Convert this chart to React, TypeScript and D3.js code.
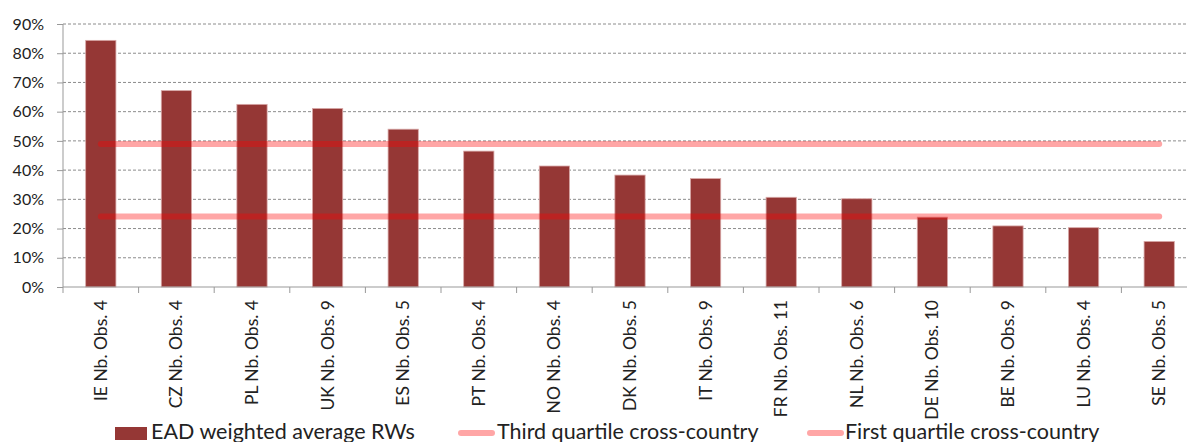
import { FC, useEffect, useRef } from 'react';
import * as d3 from 'd3';

const categories = [
  'IE Nb. Obs. 4', 'CZ Nb. Obs. 4', 'PL Nb. Obs. 4', 'UK Nb. Obs. 9', 'ES Nb. Obs. 5',
  'PT Nb. Obs. 4', 'NO Nb. Obs. 4', 'DK Nb. Obs. 5', 'IT Nb. Obs. 9', 'FR Nb. Obs. 11',
  'NL Nb. Obs. 6', 'DE Nb. Obs. 10', 'BE Nb. Obs. 9', 'LU Nb. Obs. 4', 'SE Nb. Obs. 5',
];
const eadRWs = [0.844, 0.672, 0.625, 0.611, 0.54, 0.465, 0.414, 0.383, 0.371, 0.307, 0.302, 0.239, 0.209, 0.203, 0.156];
const thirdQuartile = 0.489;
const firstQuartile = 0.241;
const yTicks = [0, 0.1, 0.2, 0.3, 0.4, 0.5, 0.6, 0.7, 0.8, 0.9];
const legendLabels = ['EAD weighted average RWs', 'Third quartile cross-country', 'First quartile cross-country'];

const FONT = 'Lato, "Open Sans", sans-serif';
const BAR = '#953735';

const App: FC = () => {
  const ref = useRef<SVGSVGElement | null>(null);

  useEffect(() => {
    const svg = d3.select(ref.current);
    svg.selectAll('*').remove();

    const left = 63;
    const right = 1197;
    const top = 24;
    const bottom = 287;

    const x = d3.scaleBand<string>().domain(categories).range([left, right]).paddingInner(0.6).paddingOuter(0.3);
    const y = d3.scaleLinear().domain([0, 0.9]).range([bottom, top]);
    const step = x.step();

    // gridlines
    svg.append('g')
      .selectAll('line')
      .data(yTicks.slice(1))
      .enter()
      .append('line')
      .attr('x1', left)
      .attr('x2', right)
      .attr('y1', d => y(d))
      .attr('y2', d => y(d))
      .attr('stroke', '#8c8c8c')
      .attr('stroke-dasharray', '3,2')
      .attr('stroke-width', 1);

    // bars
    svg.append('g')
      .selectAll('rect')
      .data(eadRWs)
      .enter()
      .append('rect')
      .attr('x', (d, i) => x(categories[i])!)
      .attr('y', d => y(d))
      .attr('width', x.bandwidth())
      .attr('height', d => bottom - y(d))
      .attr('fill', BAR)
      .attr('stroke', '#d8a8a7')
      .attr('stroke-width', 0.8);

    // quartile lines
    const xFirst = x(categories[0])! + x.bandwidth() / 2;
    const xLast = x(categories[categories.length - 1])! + x.bandwidth() / 2;
    svg.append('g')
      .selectAll('line')
      .data([thirdQuartile, firstQuartile])
      .enter()
      .append('line')
      .attr('x1', xFirst)
      .attr('x2', xLast)
      .attr('y1', d => y(d))
      .attr('y2', d => y(d))
      .attr('stroke', '#ff0000')
      .attr('stroke-opacity', 0.35)
      .attr('stroke-width', 6)
      .attr('stroke-linecap', 'round');

    // y axis
    const yAxis = svg.append('g')
      .attr('transform', `translate(${left},0)`)
      .call(d3.axisLeft(y).tickValues(yTicks).tickFormat(d3.format('.0%')).tickSize(6).tickPadding(13));
    yAxis.selectAll('.domain').attr('stroke', '#999').attr('d', `M0,${top}V${bottom}`);
    yAxis.selectAll('.tick line').attr('stroke', '#999');
    yAxis.selectAll('text')
      .attr('fill', '#222')
      .attr('font-size', '16px')
      .attr('font-family', FONT);

    // x axis
    const xg = svg.append('g');
    xg.append('line')
      .attr('x1', left).attr('x2', right)
      .attr('y1', bottom).attr('y2', bottom)
      .attr('stroke', '#999');
    xg.selectAll('.xtick')
      .data(categories.concat(['']))
      .enter()
      .append('line')
      .attr('x1', (d, i) => left + i * step)
      .attr('x2', (d, i) => left + i * step)
      .attr('y1', bottom)
      .attr('y2', bottom + 6)
      .attr('stroke', '#999');
    xg.selectAll('.xlabel')
      .data(categories)
      .enter()
      .append('text')
      .attr('transform', d => `translate(${x(d)! + x.bandwidth() / 2 + 6},300) rotate(-90)`)
      .attr('text-anchor', 'end')
      .attr('fill', '#222')
      .attr('font-size', '17.5px')
      .attr('font-family', FONT)
      .text(d => d);

    // legend
    const lg = svg.append('g').attr('font-family', FONT).attr('font-size', '21.5px').attr('fill', '#222');
    lg.append('rect').attr('x', 115).attr('y', 427).attr('width', 32).attr('height', 13).attr('fill', BAR);
    const swatchX = [458, 807];
    swatchX.forEach(sx => {
      lg.append('line')
        .attr('x1', sx + 3).attr('x2', sx + 34)
        .attr('y1', 433).attr('y2', 433)
        .attr('stroke', '#ff0000').attr('stroke-opacity', 0.35)
        .attr('stroke-width', 6).attr('stroke-linecap', 'round');
    });
    const textX = [151, 497, 845];
    lg.selectAll('text')
      .data(legendLabels)
      .enter()
      .append('text')
      .attr('x', (d, i) => textX[i])
      .attr('y', 439)
      .text(d => d);
  }, []);

  return (
    <svg
      ref={ref}
      width={1187}
      height={442}
      style={{ position: 'absolute', left: 0, top: 0, background: '#fff' }}
    />
  );
};

export default App;
